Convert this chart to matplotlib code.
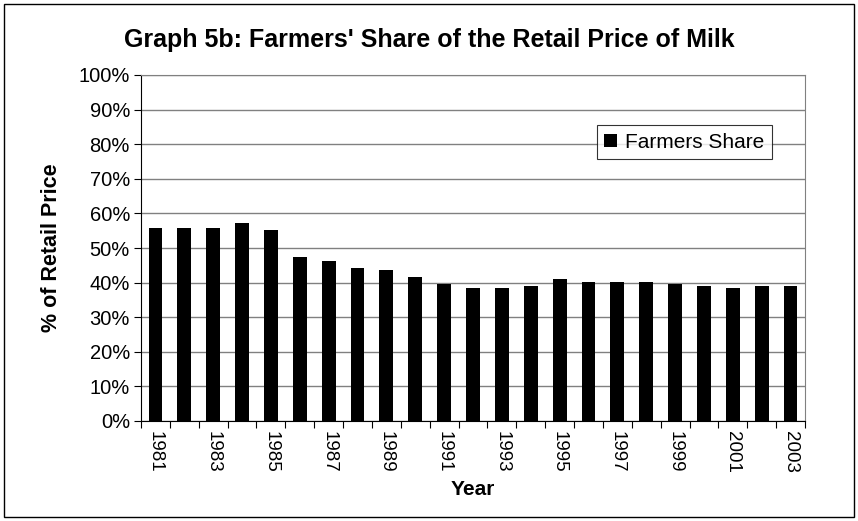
import matplotlib
matplotlib.use("Agg")
import matplotlib.pyplot as plt
from matplotlib.patches import Rectangle
import numpy as np

plt.rcParams['font.family'] = ['Liberation Sans', 'DejaVu Sans']

years = list(range(1981, 2004))
farmers_share = [55.8, 55.8, 55.8, 57.1, 55.2, 47.5, 46.2, 44.1, 43.5, 41.5,
                 39.6, 38.3, 38.4, 38.9, 41.1, 40.3, 40.3, 40.3, 39.6, 38.9,
                 38.4, 38.9, 38.9]
y_ticks = list(range(0, 101, 10))
y_tick_labels = [f"{v}%" for v in y_ticks]

W, H = 858, 521
L, R, T, B = 141, 805, 75, 421
fig = plt.figure(figsize=(W / 100, H / 100), dpi=100)
ax = fig.add_axes([L / W, 1 - B / H, (R - L) / W, (B - T) / H])

x = np.arange(len(years))
ax.bar(x, farmers_share, width=0.48, color='black', label='Farmers Share', zorder=3)

ax.set_xlim(-0.5, len(years) - 0.5)
ax.set_ylim(0, 100)
ax.set_yticks(y_ticks)
ax.set_yticklabels(y_tick_labels, fontsize=14.5)
ax.yaxis.grid(True, color='#808080', linewidth=1.0, zorder=0)

# x ticks: marks between categories, labels every other year
ax.set_xticks(np.arange(-0.5, len(years), 1.0))
ax.set_xticklabels([])
ax.tick_params(axis='x', length=5, color='black', direction='out')
ax.tick_params(axis='y', length=5, color='black', direction='out', pad=3)
ax.set_xticks(x[::2], minor=True)
ax.set_xticklabels([str(years[i]) for i in x[::2]], minor=True, rotation=270, fontsize=13.5)
ax.tick_params(axis='x', which='minor', length=0, pad=7)

for s in ['top', 'right']:
    ax.spines[s].set_color('#808080')
for s in ['left', 'bottom']:
    ax.spines[s].set_color('black')

ax.set_ylabel('% of Retail Price', fontsize=15.5, fontweight='bold', labelpad=12)
ax.set_xlabel('Year', fontsize=15, fontweight='bold', labelpad=5)

fig.text(0.5, 1 - 40 / H, "Graph 5b: Farmers' Share of the Retail Price of Milk",
         ha='center', va='center', fontsize=18, fontweight='bold')

leg = ax.legend(loc='center', bbox_to_anchor=((684.5 - L) / (R - L), (B - 142) / (B - T)),
                fontsize=15, frameon=True, fancybox=False, edgecolor='black',
                handlelength=0.6, handleheight=0.6, handletextpad=0.4, borderpad=0.35)
leg.get_frame().set_linewidth(0.8)

fig.patches.append(Rectangle((4 / W, 4 / H), (W - 8) / W, (H - 8) / H,
                             transform=fig.transFigure, fill=False,
                             edgecolor='black', linewidth=1.0))

fig.savefig('out.png', dpi=100)
